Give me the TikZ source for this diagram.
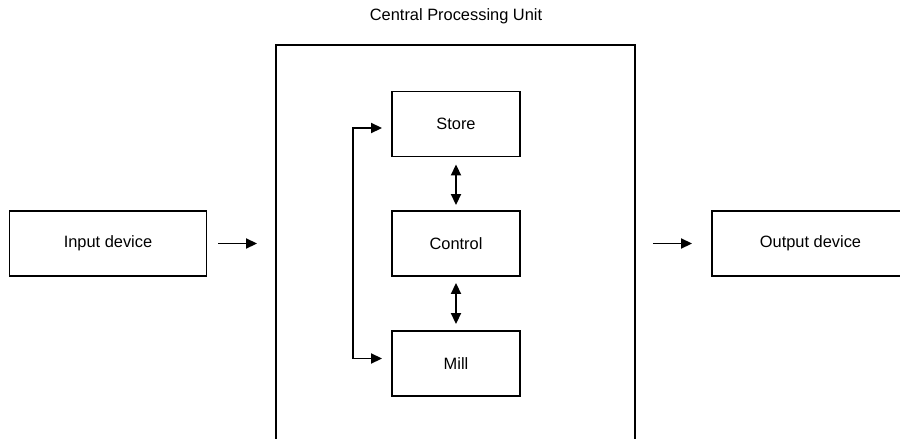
\documentclass[tikz,border=0pt]{standalone}
\usepackage{fontspec}
\setmainfont{Liberation Sans}
\usepackage{tikz}
\usetikzlibrary{positioning,arrows.meta,calc}

\begin{document}
\begin{tikzpicture}[
    x=1pt, y=-1pt,
    font=\fontsize{16.4}{19}\selectfont,
    b/.style={draw, line width=1.9pt, minimum height=65pt, inner sep=0pt},
    unit/.style={b, minimum width=128pt},
    dev/.style={b, minimum width=197pt},
    fl/.style={-{Triangle[length=11pt, width=10pt]}, line width=1.8pt},
    fl2/.style={{Triangle[length=11pt, width=10pt]}-{Triangle[length=11pt, width=10pt]}, line width=1.8pt},
]
    \useasboundingbox (0,0) rectangle (900,439);
    \clip (0,0) rectangle (900,439);
    % processor frame and its three parts
    \node[b, minimum width=359pt, minimum height=420pt] (cpu) at (455.5,255) {};
    \node (title) at (456,16) {Central Processing Unit};
    \node[unit] (store) at (456,124) {Store};
    \node[unit] (ctrl) at (456,243.5) {Control};
    \node[unit] (mill) at (456,363.5) {Mill};
    % devices on either side
    \node[dev] (in) at (108,243.5) {Input device};
    \node[dev] (out) at (810.5,243.5) {Output device};
    \draw[fl, shorten <=11pt, shorten >=18pt] (in.east) -- (in.east -| cpu.west);
    \draw[fl, shorten <=17pt, shorten >=19pt] (out.west -| cpu.east) -- (out.west);
    \draw[fl2, shorten <=7pt, shorten >=5pt] (store.south) -- (ctrl.north);
    \draw[fl2, shorten <=6pt, shorten >=6pt] (ctrl.south) -- (mill.north);
    \draw[fl2, shorten <=9pt, shorten >=9pt] ([yshift=-4pt]store.west) -- ++(-38,0) |- ([yshift=5pt]mill.west);
\end{tikzpicture}
\end{document}
